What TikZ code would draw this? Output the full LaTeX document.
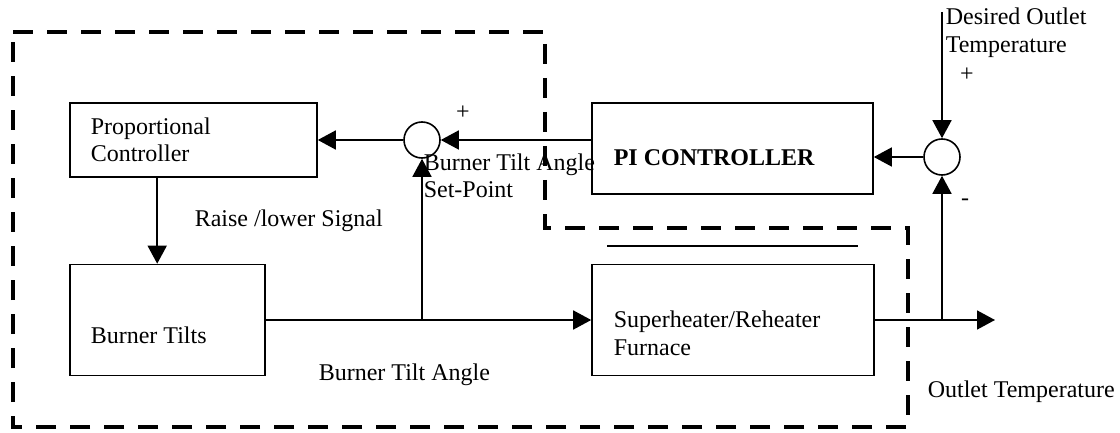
\documentclass[tikz,border=0pt]{standalone}
\usepackage{fontspec}
\setmainfont{Liberation Serif}
\usetikzlibrary{arrows.meta}
\begin{document}
\begin{tikzpicture}[x=0.5pt,y=-0.5pt,
    font=\fontsize{12}{13.5}\selectfont,
    >={Triangle[length=9pt,width=9.5pt]},
    line width=0.8pt,
    blk/.style={draw,rectangle,inner sep=0pt},
    sumnode/.style={draw,circle,minimum size=18pt,inner sep=0pt},
    txt/.style={anchor=base west,inner sep=0pt,align=left},
    sgn/.style={inner sep=0pt}]
  \useasboundingbox (0,0) rectangle (1120,433);

  % blocks
  \node[blk,minimum width=123.5pt,minimum height=37pt] (prop) at (193.5,140) {};
  \node[blk,minimum width=97.5pt,minimum height=55.5pt] (tilt) at (167.5,320) {};
  \node[blk,minimum width=140.5pt,minimum height=45.5pt] (pic) at (732.5,148.5) {};
  \node[blk,minimum width=141pt,minimum height=55.5pt] (shr) at (733,320) {};

  % summing points
  \node[sumnode] (s1) at (422,140) {};
  \node[sumnode] (s2) at (942,157) {};

  \coordinate (dsp) at (942,12);
  \coordinate (out) at (995,320);
  \coordinate (j1) at (s1 |- tilt.east);
  \coordinate (j2) at (s2 |- shr.east);
  \coordinate (pd) at ([xshift=44pt]prop.south west);

  % signals
  \draw[->] (pic.west |- s1) -- (s1.east);
  \draw[->] (s1.west) -- (prop.east);
  \draw[->] (pd) -- (pd |- tilt.north);
  \draw[->] (tilt.east) -- (shr.west);
  \draw[->] (j1) -- (s1.south);
  \draw[->] (shr.east) -- (out);
  \draw[->] (j2) -- (s2.south);
  \draw[->] (dsp) -- (s2.north);
  \draw[->] (s2.west) -- (pic.east |- s2);
  \draw ([xshift=8pt,yshift=9pt]shr.north west) -- ([xshift=-8.5pt,yshift=9pt]shr.north east);

  % dashed boundary
  \draw[line width=2.2pt,dash pattern=on 10pt off 7pt]
    (13,32) -- (545,32) -- (545,228) -- (908,228) -- (908,427) -- (13,427) -- cycle;

  % texts (base = last line)
  \node[txt] (tprop) at (90,162) {Proportional\\Controller};
  \node[txt] (ttilt) at (90,343) {Burner Tilts};
  \node[txt] (tpic) at (613,166) {\bfseries PI CONTROLLER};
  \node[txt,font=\fontsize{12}{14}\selectfont] (tshr) at (613,355) {Superheater/Reheater\\Furnace};
  \node[txt] (traise) at (194,227) {Raise /lower Signal};
  \node[txt] (tsp) at (423,198) {Burner Tilt Angle\\Set-Point};
  \node[txt] (tangle) at (318,380) {Burner Tilt Angle};
  \node[txt] (tout) at (927,397) {Outlet Temperature};
  \node[txt,font=\fontsize{12}{14}\selectfont] (tdes) at (945,53) {Desired Outlet\\Temperature};
  \node[sgn] (p1) at (463,113) {+};
  \node[sgn] (p2) at (967,75) {+};
  \node[sgn] (m2) at (965,202) {-};
\end{tikzpicture}
\end{document}
